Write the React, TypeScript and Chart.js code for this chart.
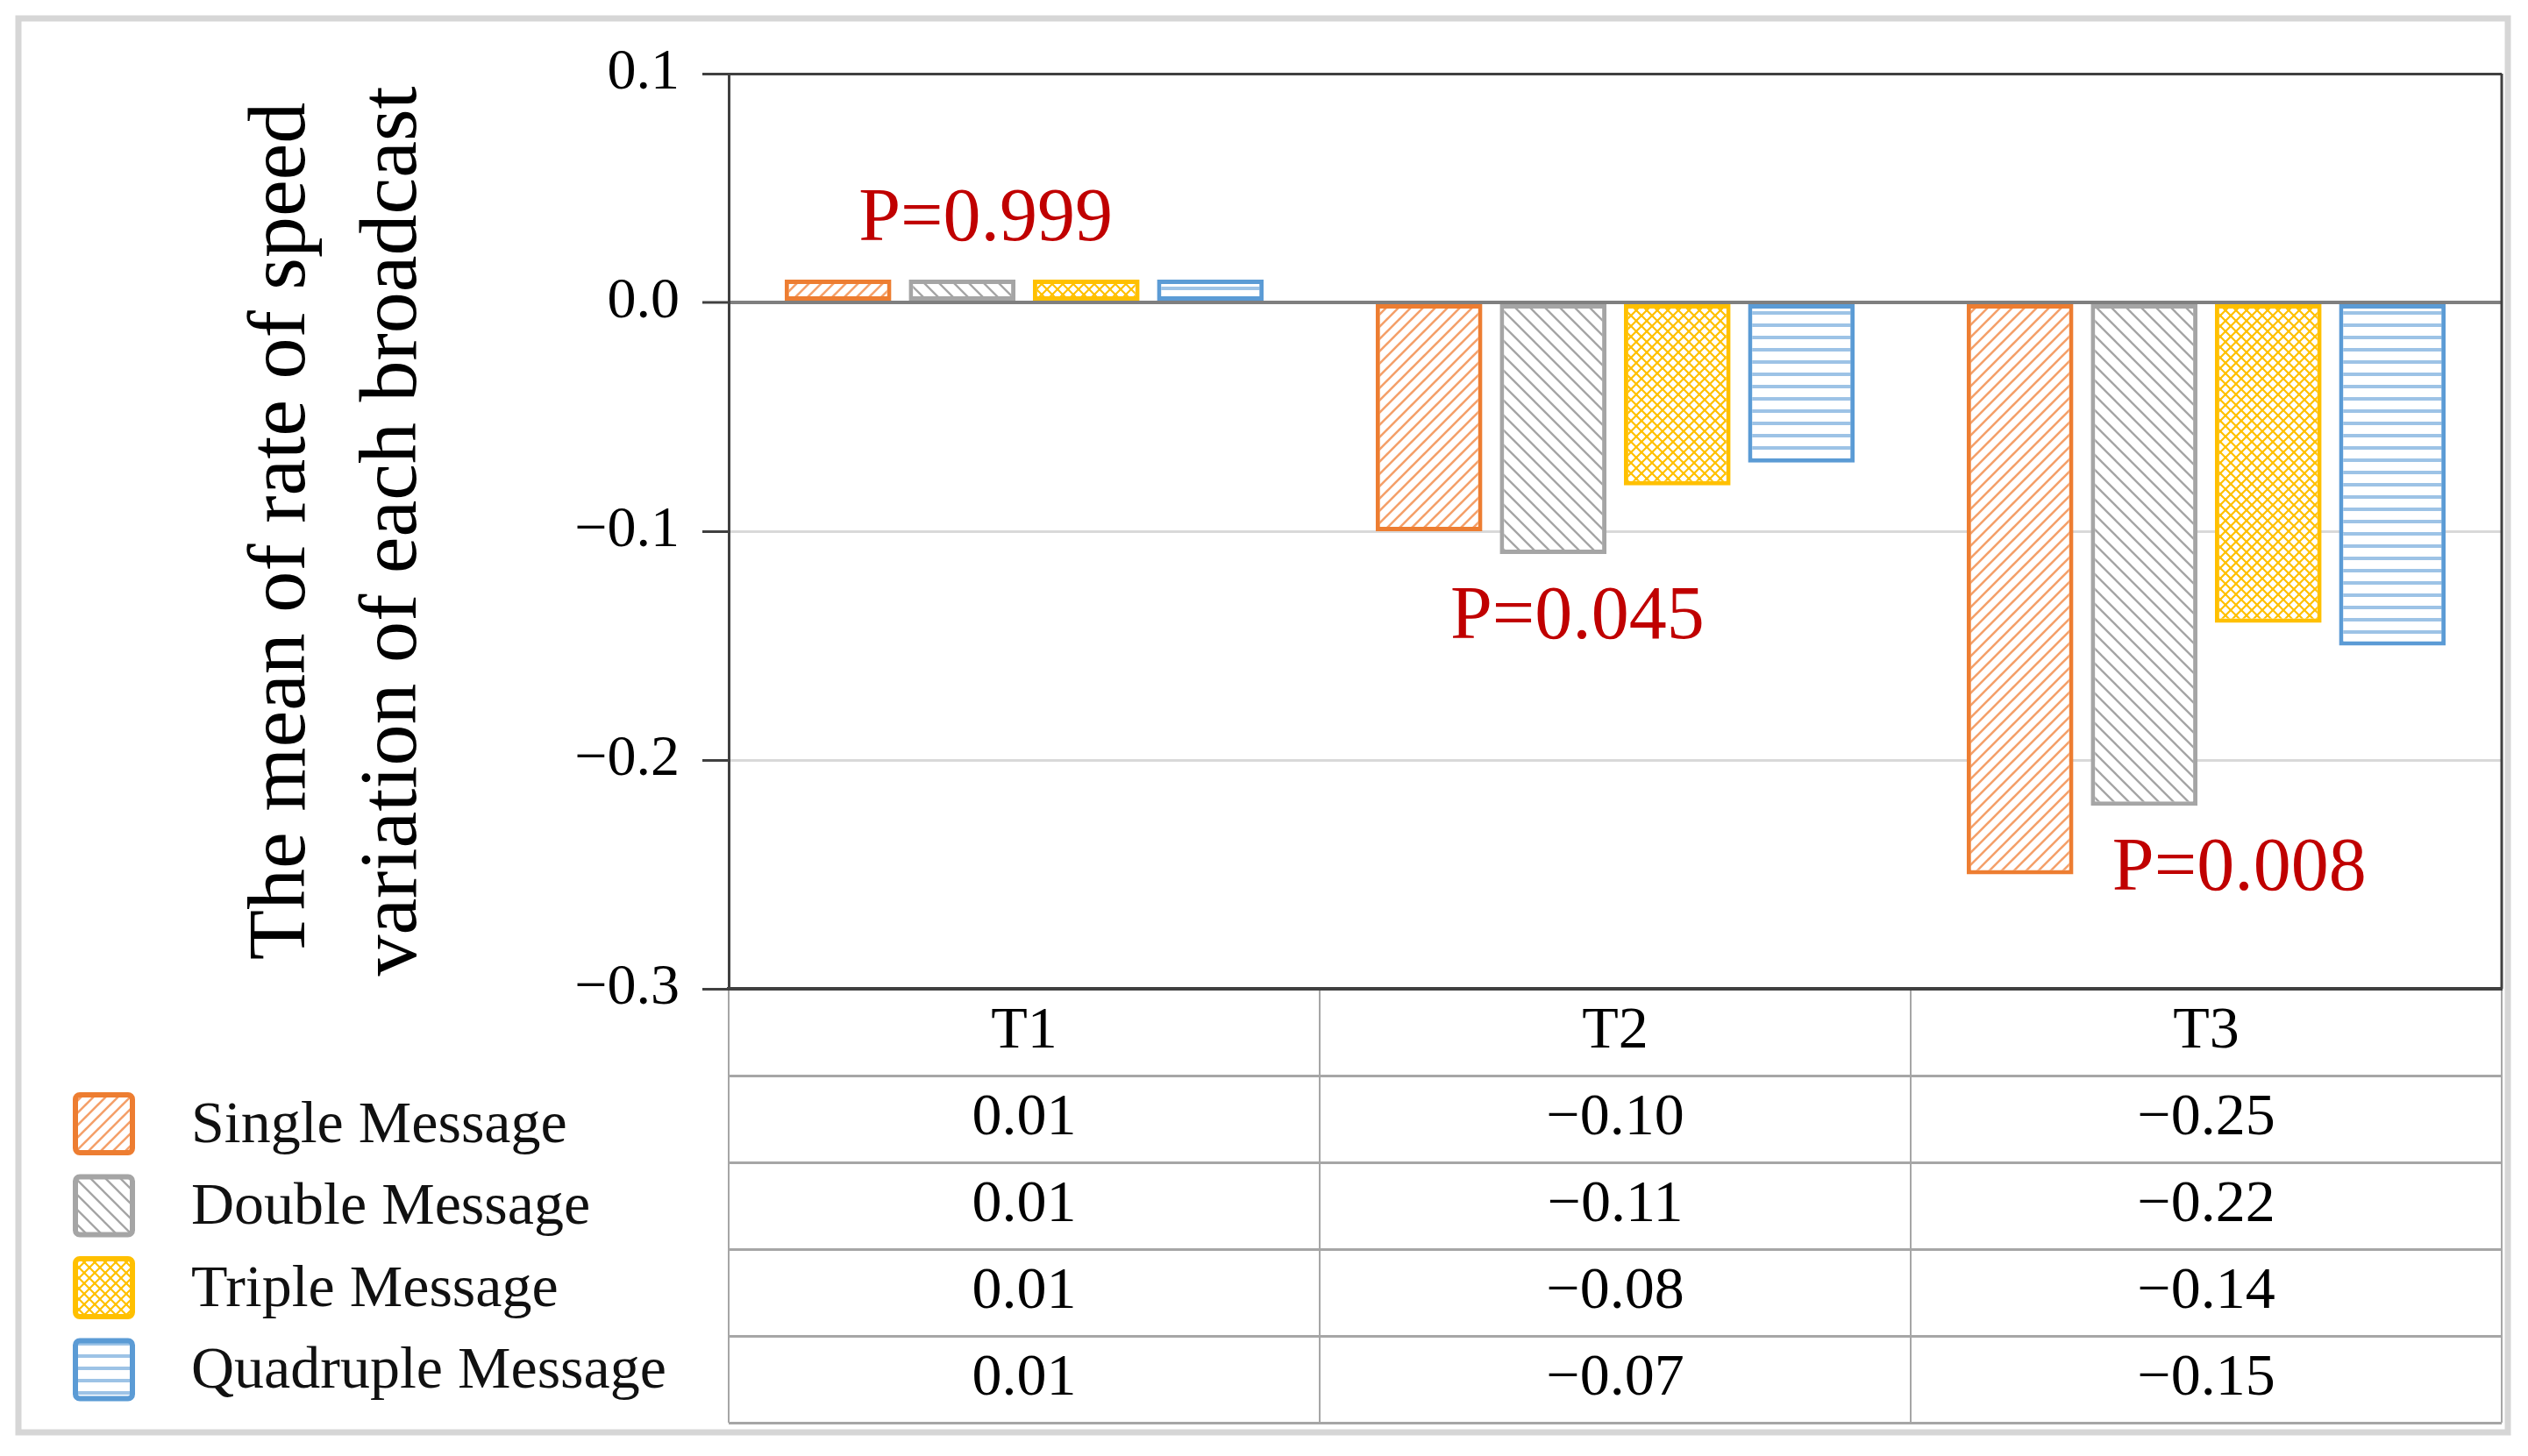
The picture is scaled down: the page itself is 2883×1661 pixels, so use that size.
import React, { useEffect, useRef } from 'react';
import { Chart, registerables } from 'chart.js';
Chart.register(...registerables);

const categories = ['T1', 'T2', 'T3'];
const seriesNames = ['Single Message', 'Double Message', 'Triple Message', 'Quadruple Message'];
const singleMsg = [0.01, -0.1, -0.25];
const doubleMsg = [0.01, -0.11, -0.22];
const tripleMsg = [0.01, -0.08, -0.14];
const quadrupleMsg = [0.01, -0.07, -0.15];
const yTicks = [-0.3, -0.2, -0.1, 0.0, 0.1];
const pLabels = ['P=0.999', 'P=0.045', 'P=0.008'];
const pLabelX = [-0.065, 0.936, 2.056];
const pLabelY = [0.036, -0.138, -0.248];
const yTitle = ['The mean of rate of speed', 'variation of each broadcast'];

const seriesData = [singleMsg, doubleMsg, tripleMsg, quadrupleMsg];
const colors = ['#ED7D31', '#A5A5A5', '#FFC000', '#5B9BD5'];
const hatchColors = ['#F4A06A', '#A5A5A5', '#FFC000', '#9DC3E6'];
const FONT = '"Liberation Serif", "Times New Roman", serif';

const fmt = (v: number, d: number) => {
  const s = Math.abs(v).toFixed(d);
  return v < -1e-9 ? '\u2212' + s : s;
};

function makePattern(kind: number): CanvasPattern {
  const c = document.createElement('canvas');
  const ctx = c.getContext('2d')!;
  const s = kind === 2 ? 12 : kind === 1 ? 17 : 14;
  c.width = s;
  c.height = s;
  ctx.fillStyle = '#ffffff';
  ctx.fillRect(0, 0, s, s);
  ctx.strokeStyle = hatchColors[kind];
  ctx.fillStyle = hatchColors[kind];
  ctx.lineCap = 'square';
  if (kind === 0 || kind === 2) {
    ctx.lineWidth = kind === 2 ? 2.2 : 2.6;
    ctx.beginPath();
    for (const x0 of [-s, 0, s]) {
      ctx.moveTo(x0, s);
      ctx.lineTo(x0 + s, 0);
    }
    ctx.stroke();
  }
  if (kind === 1 || kind === 2) {
    ctx.lineWidth = kind === 2 ? 2.2 : 2.4;
    ctx.beginPath();
    for (const x0 of [-s, 0, s]) {
      ctx.moveTo(x0, 0);
      ctx.lineTo(x0 + s, s);
    }
    ctx.stroke();
  }
  if (kind === 3) {
    ctx.fillRect(0, s / 2 - 2, s, 4);
  }
  return ctx.createPattern(c, 'repeat')!;
}

export default function App() {
  const ref = useRef<HTMLCanvasElement>(null);
  useEffect(() => {
    document.body.style.margin = '0';
    const patterns = colors.map((_, i) => makePattern(i));

    const extras = {
      id: 'extras',
      beforeDraw(chart: any) {
        const ctx = chart.ctx;
        ctx.save();
        ctx.fillStyle = '#ffffff';
        ctx.fillRect(0, 0, chart.width, chart.height);
        ctx.strokeStyle = '#D6D6D6';
        ctx.lineWidth = 7;
        ctx.strokeRect(21, 21, chart.width - 44, chart.height - 48);
        ctx.restore();
      },
      afterDraw(chart: any) {
        const ctx = chart.ctx;
        const { left, right, top, bottom } = chart.chartArea;
        const xs = chart.scales.x;
        const ys = chart.scales.y;
        ctx.save();
        // right border of plot
        ctx.strokeStyle = '#404040';
        ctx.lineWidth = 3;
        ctx.beginPath();
        ctx.moveTo(right, top);
        ctx.lineTo(right, bottom);
        ctx.stroke();

        // table rows
        const tableH = chart.height - 38 - bottom;
        const rowH = tableH / 5;
        ctx.strokeStyle = '#A6A6A6';
        ctx.lineWidth = 3;
        for (let r = 1; r <= 5; r++) {
          const y = Math.round(bottom + r * rowH) + 0.5;
          ctx.beginPath();
          ctx.moveTo(left, y);
          ctx.lineTo(right, y);
          ctx.stroke();
        }
        ctx.fillStyle = '#000';
        ctx.textAlign = 'center';
        ctx.textBaseline = 'middle';
        ctx.font = `68px ${FONT}`;
        categories.forEach((c, i) => {
          const cx = xs.getPixelForValue(i);
          ctx.fillText(c, cx, bottom + rowH * 0.5);
          seriesData.forEach((d, j) => {
            ctx.fillText(fmt(d[i], 2), cx, bottom + rowH * (j + 1.5));
          });
        });

        // legend
        ctx.textAlign = 'left';
        ctx.font = `68px ${FONT}`;
        seriesNames.forEach((name, i) => {
          const cy = bottom + 154 + 93.5 * i;
          ctx.beginPath();
          (ctx as any).roundRect(86, cy - 33, 65, 66, 5);
          ctx.fillStyle = patterns[i];
          ctx.fill();
          ctx.strokeStyle = colors[i];
          ctx.lineWidth = 6;
          ctx.stroke();
          ctx.fillStyle = '#111';
          ctx.fillText(name, 218, cy + 3);
        });

        // P annotations
        ctx.textAlign = 'center';
        ctx.fillStyle = '#C00000';
        ctx.font = `86px ${FONT}`;
        pLabels.forEach((t, i) => {
          ctx.fillText(t, xs.getPixelForValue(pLabelX[i]), ys.getPixelForValue(pLabelY[i]));
        });
        ctx.restore();
      },
    };

    const chart = new Chart(ref.current!, {
      type: 'bar',
      data: {
        labels: categories,
        datasets: seriesData.map((d, i) => ({
          label: seriesNames[i],
          data: d,
          backgroundColor: patterns[i],
          borderColor: colors[i],
          borderWidth: 5,
          borderSkipped: false,
          categoryPercentage: 0.84,
          barPercentage: 0.86,
        })),
      },
      options: {
        animation: false,
        responsive: false,
        devicePixelRatio: 1,
        layout: { padding: { left: 0, right: 30, top: 84, bottom: 38 } },
        plugins: { legend: { display: false }, tooltip: { enabled: false } },
        scales: {
          x: {
            ticks: { display: false },
            grid: {
              display: true,
              drawOnChartArea: false,
              drawTicks: true,
              tickLength: 495,
              color: '#A6A6A6',
              lineWidth: 2,
              offset: true,
            },
            border: { color: '#404040', width: 4 },
          },
          y: {
            min: -0.3,
            max: 0.1,
            afterBuildTicks: (s: any) => {
              s.ticks = yTicks.map((v) => ({ value: v }));
            },
            afterFit: (s: any) => {
              s.width = 831;
            },
            ticks: {
              color: '#000',
              padding: 26,
              font: { size: 66, family: FONT },
              callback: (v: any) => fmt(Number(v), 1),
            },
            grid: {
              color: (c: any) => {
                const v = c.tick ? c.tick.value : 0;
                if (Math.abs(v) < 1e-9) return '#7F7F7F';
                if (v > 0.05 || v < -0.25) return '#404040';
                return '#D9D9D9';
              },
              lineWidth: (c: any) => {
                const v = c.tick ? c.tick.value : 0;
                if (Math.abs(v) < 1e-9) return 4;
                return 3;
              },
              tickColor: '#404040',
              tickWidth: 3,
              tickLength: 30,
              drawTicks: true,
            },
            border: { color: '#404040', width: 3 },
            title: {
              display: true,
              text: yTitle,
              color: '#000',
              font: { size: 94, family: FONT, lineHeight: 1.36 },
              padding: { top: 258, bottom: 0 },
            },
          },
        },
      },
      plugins: [extras],
    } as any);
    return () => chart.destroy();
  }, []);

  return (
    <div style={{ position: 'fixed', left: 0, top: 0, width: 2883, height: 1661 }}>
      <canvas ref={ref} width={2883} height={1661} style={{ width: 2883, height: 1661, display: 'block' }} />
    </div>
  );
}
